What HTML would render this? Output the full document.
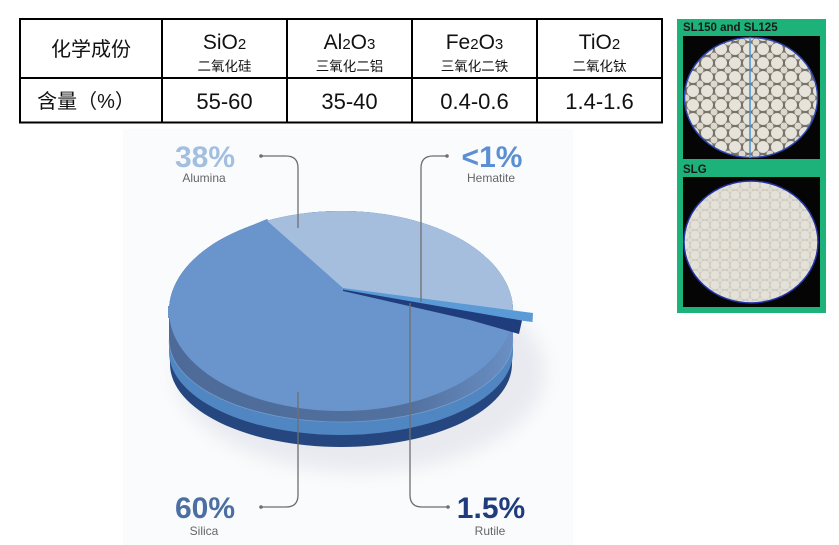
<!DOCTYPE html>
<html><head><meta charset="utf-8"><style>
html,body{margin:0;padding:0;background:#fff;}
svg{display:block;}
</style></head><body>
<svg width="839" height="545" viewBox="0 0 839 545" xmlns="http://www.w3.org/2000/svg">
<defs>
  <filter id="blur" x="-20%" y="-20%" width="140%" height="140%"><feGaussianBlur stdDeviation="9"/></filter>
  <pattern id="gran1" width="14" height="14" patternUnits="userSpaceOnUse">
    <rect width="14" height="14" fill="#77726a"/>
    <circle cx="7" cy="7" r="6" fill="#e6e3da"/>
    <circle cx="0" cy="0" r="3.5" fill="#dcd8cc"/>
    <circle cx="14" cy="0" r="3.5" fill="#dcd8cc"/>
    <circle cx="0" cy="14" r="3.5" fill="#dcd8cc"/>
    <circle cx="14" cy="14" r="3.5" fill="#dcd8cc"/>
  </pattern>
  <pattern id="gran2" width="10" height="10" patternUnits="userSpaceOnUse">
    <rect width="10" height="10" fill="#cac6bb"/>
    <circle cx="5" cy="5" r="4.5" fill="#e4e1d9"/>
    <circle cx="0" cy="0" r="2.5" fill="#dedbd2"/>
    <circle cx="10" cy="0" r="2.5" fill="#dedbd2"/>
    <circle cx="0" cy="10" r="2.5" fill="#dedbd2"/>
    <circle cx="10" cy="10" r="2.5" fill="#dedbd2"/>
  </pattern>
  <linearGradient id="grayband" x1="0" x2="1" y1="0" y2="0">
    <stop offset="0" stop-color="#4d6a98"/>
    <stop offset="0.7" stop-color="#52719f"/>
    <stop offset="1" stop-color="#6a8fc4"/>
  </linearGradient>
</defs>

<!-- Table -->
<g stroke="#000" stroke-width="2" fill="none">
  <rect x="20" y="19" width="642" height="103.5"/>
  <line x1="20" y1="78" x2="662" y2="78"/>
  <line x1="162" y1="19" x2="162" y2="122.5"/>
  <line x1="287" y1="19" x2="287" y2="122.5"/>
  <line x1="412" y1="19" x2="412" y2="122.5"/>
  <line x1="537" y1="19" x2="537" y2="122.5"/>
</g>
<g font-family="'Liberation Sans','Noto Sans CJK SC',sans-serif" fill="#111" text-anchor="middle">
  <text x="91" y="56" font-size="20">化学成份</text>
  <text x="86" y="108" font-size="20">含量（%）</text>

  <text x="224.5" y="49" font-size="21">SiO<tspan font-size="15">2</tspan></text>
  <text x="224.5" y="71" font-size="13.5">二氧化硅</text>
  <text x="349.5" y="49" font-size="21">Al<tspan font-size="15">2</tspan>O<tspan font-size="15">3</tspan></text>
  <text x="349.5" y="71" font-size="13.5">三氧化二铝</text>
  <text x="474.5" y="49" font-size="21">Fe<tspan font-size="15">2</tspan>O<tspan font-size="15">3</tspan></text>
  <text x="474.5" y="71" font-size="13.5">三氧化二铁</text>
  <text x="599.5" y="49" font-size="21">TiO<tspan font-size="15">2</tspan></text>
  <text x="599.5" y="71" font-size="13.5">二氧化钛</text>

  <text x="224.5" y="109" font-size="22">55-60</text>
  <text x="349.5" y="109" font-size="22">35-40</text>
  <text x="474.5" y="109" font-size="22">0.4-0.6</text>
  <text x="599.5" y="109" font-size="22">1.4-1.6</text>
</g>

<!-- Pie chart background -->
<rect x="123" y="129" width="450" height="416" fill="#fafbfc"/>
<ellipse cx="360" cy="372" rx="185" ry="100" fill="#e8eaf0" filter="url(#blur)"/>

<!-- Pie layers -->
<path d="M169,311 A172,100 0 0 1 513,311 L512,364 A171,83 0 0 1 170,364 Z" fill="#26467f"/>
<path d="M169,311 A172,100 0 0 1 513,311 L513,352 A172,83 0 0 1 169,352 Z" fill="#5086c1"/>
<path d="M169,311 A172,100 0 0 1 513,311 L513,340 A172,82 0 0 1 169,340 Z" fill="url(#grayband)"/>
<path d="M169,340 A172,82 0 0 0 513,340" fill="none" stroke="#8fb0da" stroke-width="0.8" opacity="0.6"/>
<ellipse cx="341" cy="311" rx="172" ry="100" fill="#6a95cc"/>
<path d="M169,306 L169,318" stroke="#6a95cc" stroke-width="2"/>
<path d="M267,219 L250,226 L275,226 Z" fill="#6a95cc"/>
<!-- Alumina -->
<path d="M343,288 L267,220.7 A172,100 0 0 1 513,311 L513,315 Z" fill="#a5bedd"/>
<!-- wedges -->
<path d="M343,289.5 L532.5,322 L522,320.5 L519,334 L470,320 L343,291 Z" fill="#1f3d7c"/>
<path d="M343,288 L533,313 L532.5,322 L521,320.4 L343,289.5 Z" fill="#5a9ad6"/>

<!-- Callout lines -->
<g stroke="#6e6e6e" stroke-width="1.3" fill="none">
  <path d="M261,156 H286 Q298,156 298,168 V228"/>
  <path d="M447,156 H433 Q421,156 421,168 V302"/>
  <path d="M298,392 V495 Q298,507 286,507 H261"/>
  <path d="M410,303 V495 Q410,507 422,507 H448"/>
</g>
<g fill="#6e6e6e">
  <circle cx="261" cy="156" r="1.8"/>
  <circle cx="447" cy="156" r="1.8"/>
  <circle cx="261" cy="507" r="1.8"/>
  <circle cx="448" cy="507" r="1.8"/>
</g>

<!-- Labels -->
<g font-family="'Liberation Sans',sans-serif" text-anchor="middle">
  <text x="205" y="167" font-size="30" font-weight="bold" fill="#a3bfe0">38%</text>
  <text x="204" y="182" font-size="12" fill="#666">Alumina</text>
  <text x="492" y="167" font-size="30" font-weight="bold" fill="#5b8fd4">&lt;1%</text>
  <text x="491" y="182" font-size="12" fill="#666">Hematite</text>
  <text x="205" y="518" font-size="30" font-weight="bold" fill="#4c6fa3">60%</text>
  <text x="204" y="535" font-size="12" fill="#666">Silica</text>
  <text x="491" y="518" font-size="30" font-weight="bold" fill="#1f3c7e">1.5%</text>
  <text x="490" y="535" font-size="12" fill="#666">Rutile</text>
</g>

<!-- Green panel -->
<rect x="677" y="19" width="149" height="294" fill="#1cb27a"/>
<text x="683" y="31" font-family="'Liberation Sans',sans-serif" font-size="11.5" font-weight="bold" fill="#1a1a1a">SL150 and SL125</text>
<rect x="683" y="36" width="137" height="123" fill="#050505"/>
<ellipse cx="751" cy="97.5" rx="66.5" ry="60" fill="url(#gran1)" stroke="#2b45b0" stroke-width="1.5"/>
<line x1="750" y1="37" x2="750" y2="158" stroke="#4a92d2" stroke-width="1.5"/>
<text x="683" y="173" font-family="'Liberation Sans',sans-serif" font-size="11.5" font-weight="bold" fill="#1a1a1a">SLG</text>
<rect x="683" y="177" width="137" height="130" fill="#050505"/>
<ellipse cx="751" cy="242" rx="67" ry="61" fill="url(#gran2)" stroke="#2233aa" stroke-width="1.5"/>
</svg>
</body></html>
